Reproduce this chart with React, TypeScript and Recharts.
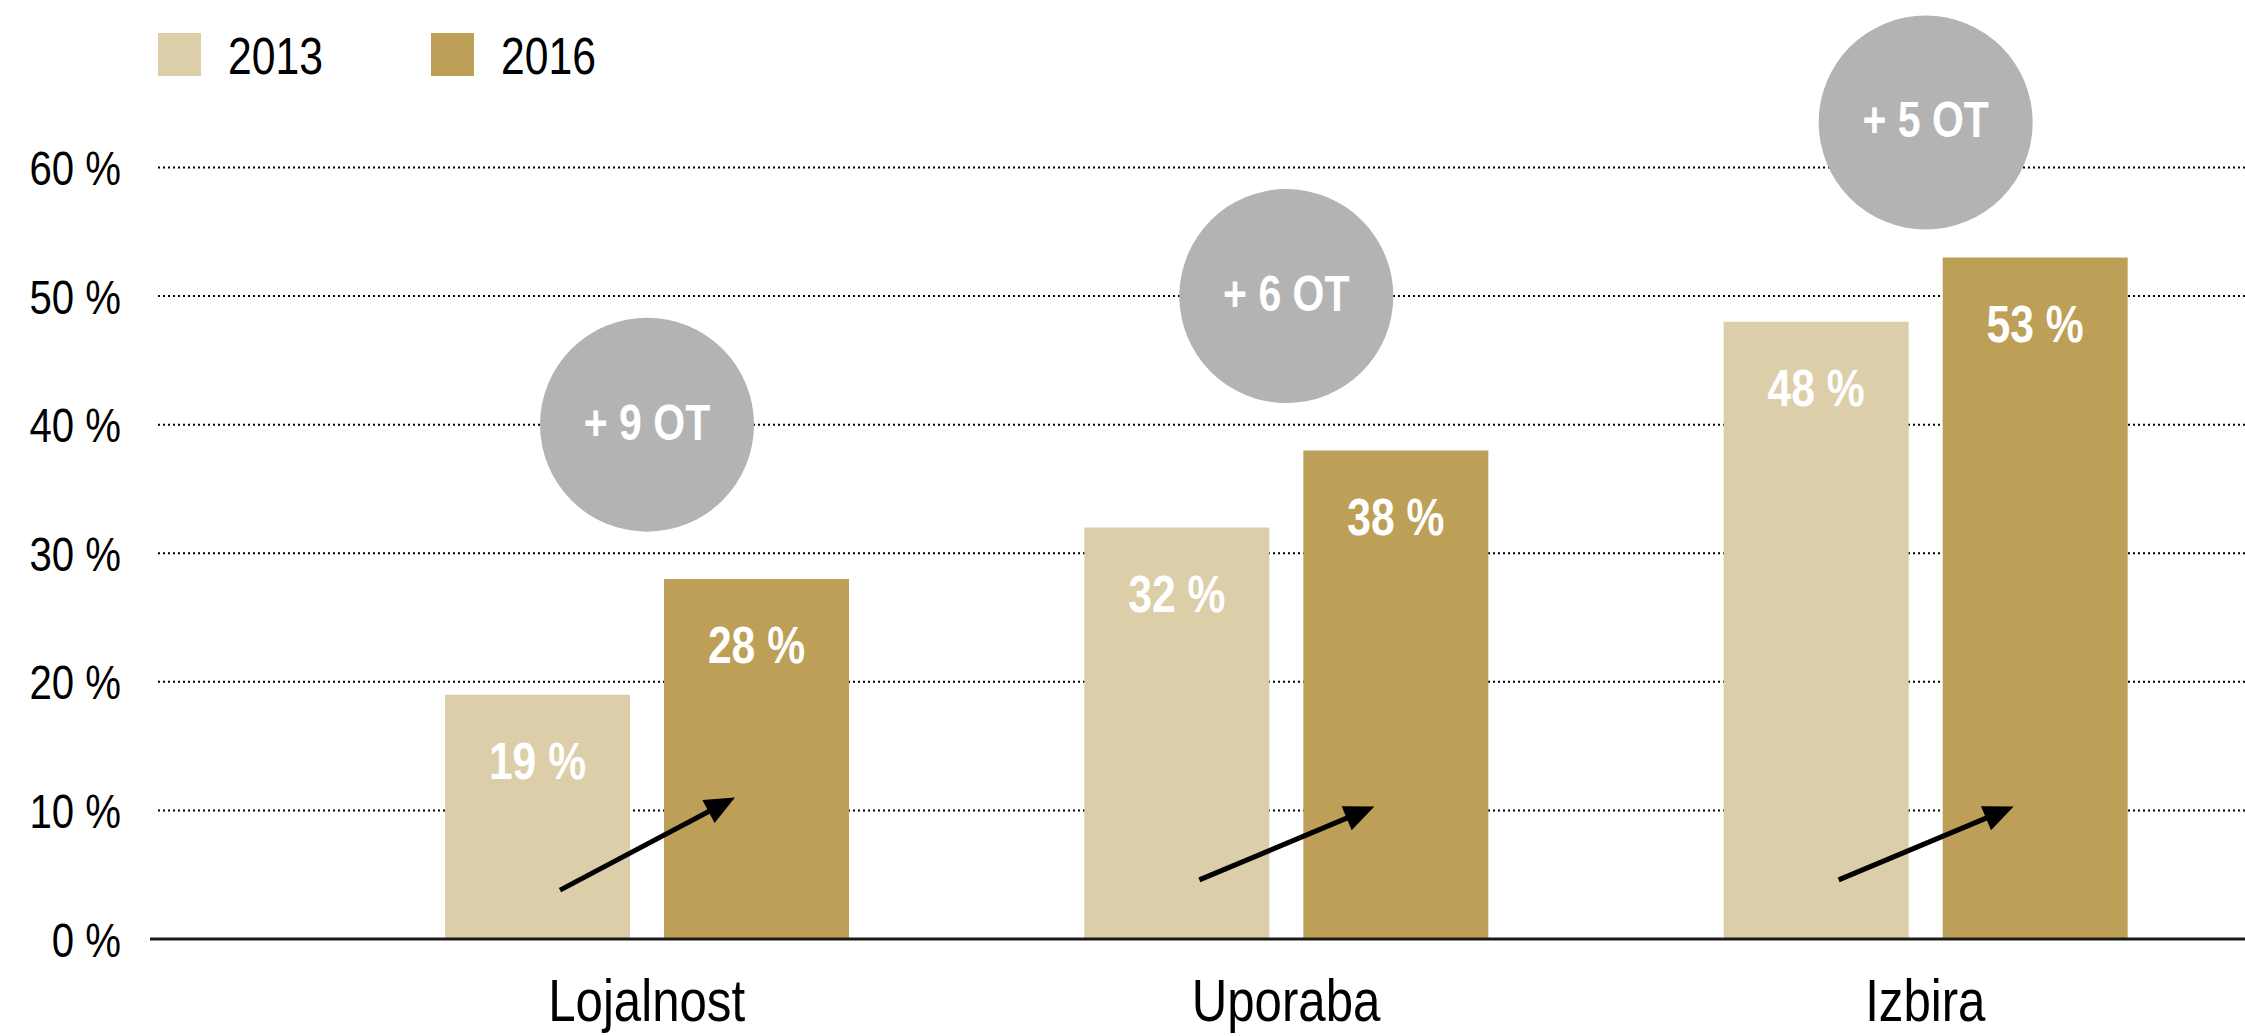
import React from 'react';
import { BarChart, Bar, XAxis, YAxis, CartesianGrid, LabelList } from 'recharts';

const categories = ['Lojalnost', 'Uporaba', 'Izbira'];
const values2013 = [19, 32, 48];
const values2016 = [28, 38, 53];
// where the grey circle sits and where the arrow runs, in % of the value axis
const bubbleLevel = [40, 50, 63.5];
const arrowFrom = [3.8, 4.6, 4.6];
const arrowTo = [11, 10.3, 10.3];
const yTicks = [0, 10, 20, 30, 40, 50, 60];
const seriesNames = ['2013', '2016'];

const COLOR_2013 = '#DDCEAA';
const COLOR_2016 = '#BE9F57';
const GREY = '#B3B3B3';
const FONT = "'Liberation Sans', Arial, sans-serif";
const SQUEEZE = 0.82; // the original uses a condensed face
const BAR_GAP = 34;

const data = categories.map((name, i) => ({
  name,
  v2013: values2013[i],
  v2016: values2016[i],
}));

const box = (props: any) => {
  const vb = props.viewBox && props.viewBox.width != null ? props.viewBox : props;
  return { x: Number(vb.x), y: Number(vb.y), width: Number(vb.width), height: Number(vb.height) };
};

// text squeezed horizontally around its anchor point
const NarrowText = ({ x, y, anchor = 'middle', size, bold = false, fill = '#000', children }: any) => (
  <text
    transform={`translate(${x},${y}) scale(${SQUEEZE},1)`}
    textAnchor={anchor}
    fill={fill}
    fontFamily={FONT}
    fontWeight={bold ? 'bold' : 'normal'}
    fontSize={size}
  >
    {children}
  </text>
);

const GridLine = (props: any) => {
  const { x1, x2, y1, y2 } = props;
  return (
    <line
      key={`g-${y1}`}
      x1={x1 + 8}
      x2={x2}
      y1={y1}
      y2={y2}
      stroke="#000"
      strokeWidth={2}
      strokeDasharray="2 3"
    />
  );
};

const XTick = (props: any) => (
  <NarrowText x={props.x} y={props.y + 82} size={60}>
    {props.payload.value}
  </NarrowText>
);

const YTick = (props: any) => (
  <NarrowText x={props.x} y={props.y + 17.5} anchor="end" size={49}>
    {`${props.payload.value} %`}
  </NarrowText>
);

const ValueLabel = (props: any) => {
  const { x, y, width } = box(props);
  return (
    <NarrowText x={x + width / 2} y={y + 66 + 18.5} size={52} bold fill="#fff">
      {`${props.value} %`}
    </NarrowText>
  );
};

// grey circle with the change and the arrow, drawn off the 2016 bar
const Annotation = (props: any) => {
  const { x, y, height } = box(props);
  let i = props.index;
  if (i == null) i = values2016.indexOf(Number(props.value));
  const value = values2016[i];
  const base = y + height;
  const k = height / value;
  const cx = x - BAR_GAP / 2;

  const cy = base - bubbleLevel[i] * k;
  const diff = values2016[i] - values2013[i];

  const sx = cx - 87;
  const sy = base - arrowFrom[i] * k;
  const tx = cx + 88;
  const ty = base - arrowTo[i] * k;
  const len = Math.hypot(tx - sx, ty - sy);
  const ux = (tx - sx) / len;
  const uy = (ty - sy) / len;
  const headLen = 30;
  const headW = 13;
  const bx = tx - ux * headLen;
  const by = ty - uy * headLen;

  return (
    <g>
      <circle cx={cx} cy={cy} r={107} fill={GREY} />
      <NarrowText x={cx} y={cy + 15} size={50} bold fill="#fff">
        {`+ ${diff} OT`}
      </NarrowText>
      <line x1={sx} y1={sy} x2={bx + ux * 4} y2={by + uy * 4} stroke="#000" strokeWidth={5} />
      <polygon
        points={`${tx},${ty} ${bx - uy * headW},${by + ux * headW} ${bx + uy * headW},${by - ux * headW}`}
        fill="#000"
      />
    </g>
  );
};

const legendColors = [COLOR_2013, COLOR_2016];
const legendLeft = [158, 431];

export default function App() {
  return (
    <div style={{ position: 'absolute', left: 0, top: 0, width: 2245, height: 1036, background: '#fff' }}>
      {seriesNames.map((name, i) => (
        <React.Fragment key={name}>
          <div
            style={{
              position: 'absolute',
              left: legendLeft[i],
              top: 33,
              width: 43,
              height: 43,
              background: legendColors[i],
            }}
          />
          <span
            style={{
              position: 'absolute',
              left: legendLeft[i] + 70,
              top: 35,
              lineHeight: '43px',
              fontSize: 52,
              fontFamily: FONT,
              color: '#000',
              transform: `scaleX(${SQUEEZE})`,
              transformOrigin: 'left center',
              whiteSpace: 'nowrap',
            }}
          >
            {name}
          </span>
        </React.Fragment>
      ))}
      <BarChart
        width={2245}
        height={1036}
        data={data}
        margin={{ top: 167.5, right: 0, bottom: 0, left: 0 }}
        barSize={185}
        barGap={BAR_GAP}
      >
        <CartesianGrid vertical={false} horizontal={GridLine} />
        <XAxis
          dataKey="name"
          padding={{ left: 177, right: 0 }}
          height={97}
          interval={0}
          tickLine={false}
          tickSize={0}
          tickMargin={0}
          axisLine={{ stroke: '#1a1a1a', strokeWidth: 3 }}
          tick={XTick}
        />
        <YAxis
          width={150}
          domain={[0, 60]}
          ticks={yTicks}
          interval={0}
          axisLine={false}
          tickLine={false}
          tickSize={0}
          tickMargin={29}
          tick={YTick}
        />
        <Bar dataKey="v2013" name={seriesNames[0]} fill={COLOR_2013} isAnimationActive={false}>
          <LabelList dataKey="v2013" content={ValueLabel} />
        </Bar>
        <Bar dataKey="v2016" name={seriesNames[1]} fill={COLOR_2016} isAnimationActive={false}>
          <LabelList dataKey="v2016" content={ValueLabel} />
          <LabelList dataKey="v2016" content={Annotation} />
        </Bar>
      </BarChart>
    </div>
  );
}
